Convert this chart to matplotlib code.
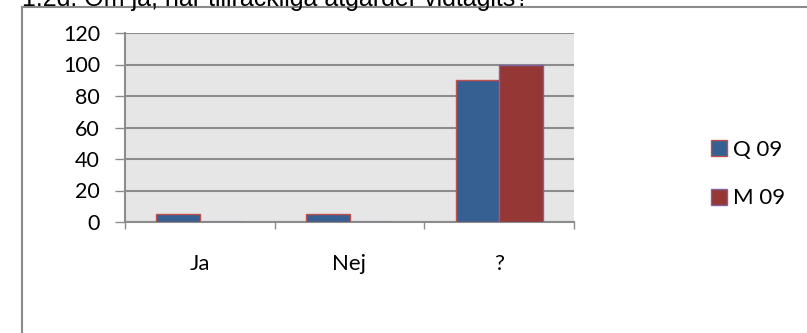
import numpy as np
import matplotlib
matplotlib.use('Agg')
import matplotlib.pyplot as plt
from matplotlib.patches import Rectangle


categories = ['Ja', 'Nej', '?']
q09 = [5, 5, 90]
m09 = [0, 0, 100]
series_names = ['Q 09', 'M 09']
yticks = [0, 20, 40, 60, 80, 100, 120]
title = '1.2d. Om ja, har tillräckliga åtgärder vidtagits?'

W, H = 807, 333
fig = plt.figure(figsize=(W / 100, H / 100), dpi=100)

# question text above the frame - cut by the top edge, as in the source
fig.text(22 / W, 1 - 6 / H, title, family='Liberation Sans', fontsize=18,
         va='baseline', ha='left', color='black')

# outer chart frame (runs off the right/bottom edges)
fig.patches.append(Rectangle((22 / W, -0.1), 1.0, 1 - 7 / H + 0.1,
                             transform=fig.transFigure, fill=False,
                             edgecolor='#8a8a8a', lw=1.5))

ax = fig.add_axes([125 / W, 1 - 222 / H, 449 / W, 189 / H])
ax.set_facecolor('#e6e6e6')

x = np.arange(len(categories))
w = 0.29
ax.bar(x - w / 2, q09, w, color='#376092', edgecolor='#c0504d', lw=1,
       label=series_names[0], zorder=3)
ax.bar(x + w / 2, m09, w, color='#953735', edgecolor='#7f62a0', lw=1,
       label=series_names[1], zorder=3)

ax.set_xlim(-0.5, len(categories) - 0.5)
ax.set_ylim(0, 120)
ax.set_yticks(yticks)
ax.yaxis.grid(True, color='#8c8c8c', lw=1.5, zorder=1)

# ticks at category boundaries, labels in the middle
ax.set_xticks(np.arange(len(categories) + 1) - 0.5)
ax.set_xticklabels([])
ax.set_xticks(x, categories, minor=True)
ax.tick_params(axis='x', which='major', length=5, width=1, color='#8c8c8c',
               direction='out')
ax.tick_params(axis='x', which='minor', length=0, pad=23)
ax.tick_params(axis='y', length=7, width=1, color='#8c8c8c', pad=11)

for lab in ax.get_xticklabels(minor=True):
    lab.set_family('Lato')
    lab.set_fontsize(16)
for lab in ax.get_yticklabels():
    lab.set_family('Lato')
    lab.set_fontsize(15.5)

for s in ['top', 'right']:
    ax.spines[s].set_visible(False)
for s in ['left', 'bottom']:
    ax.spines[s].set_color('#8c8c8c')
    ax.spines[s].set_linewidth(1.5)

leg = fig.legend(loc='center left', bbox_to_anchor=(700 / W, 1 - 174 / H),
                 frameon=False, borderpad=0, handlelength=0.72,
                 handleheight=0.72, handletextpad=0.28, labelspacing=1.3,
                 prop={'family': 'Lato', 'size': 16})

fig.savefig('out.png', dpi=100)
